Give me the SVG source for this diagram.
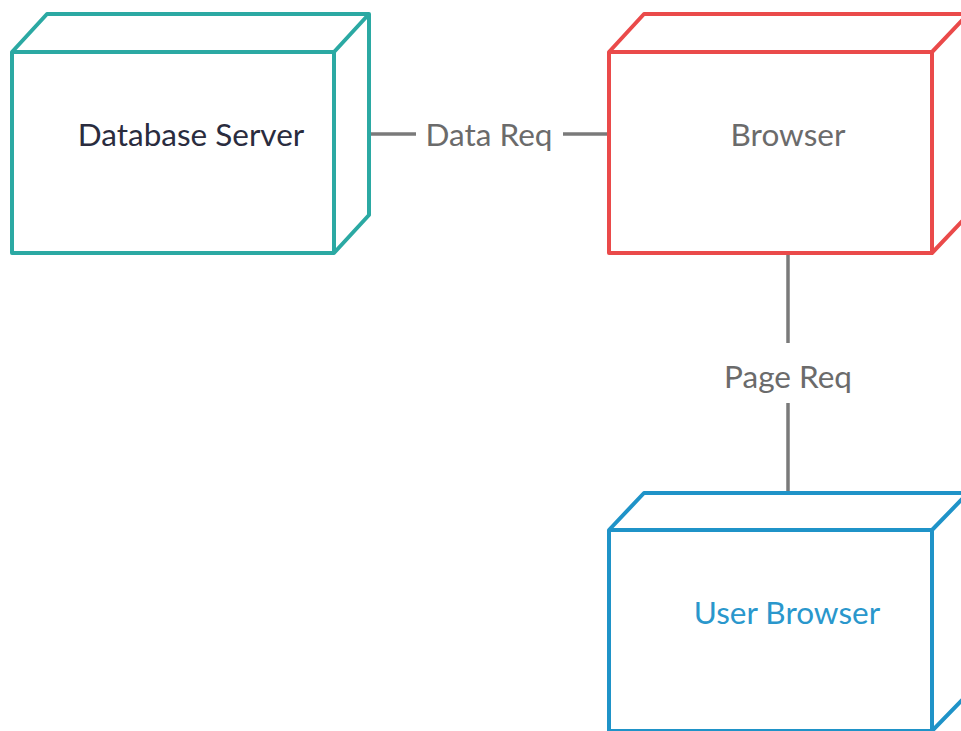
<svg xmlns="http://www.w3.org/2000/svg" width="961" height="731" viewBox="0 0 961 731">
<style>
.box{fill:#fff;stroke-width:4;stroke-linejoin:round}
.edge{stroke:#7a7a7a;stroke-width:3.5;fill:none}
.lbl{font-family:Lato,"Open Sans","Liberation Sans",sans-serif;font-size:31.5px;text-anchor:middle}
</style>
<rect width="961" height="731" fill="#fff"/>
<g id="connectors">
<line class="edge" x1="370" y1="134" x2="416" y2="134"/>
<line class="edge" x1="563" y1="134" x2="609" y2="134"/>
<text class="lbl" x="489" y="146" fill="#6b6b6b">Data Req</text>
<line class="edge" x1="788" y1="253" x2="788" y2="343"/>
<line class="edge" x1="788" y1="403" x2="788" y2="493"/>
<text class="lbl" x="788" y="388" fill="#6b6b6b">Page Req</text>
</g>
<g id="database-server">
<path class="box" stroke="#2ba9a3" d="M12 52 L47 14 L369 14 L369 215 L334 253 L12 253 Z M12 52 L334 52 L369 14 M334 52 L334 253"/>
<text class="lbl" x="191" y="146" fill="#2a2c3e">Database Server</text>
</g>
<g id="browser">
<path class="box" stroke="#ea4a4a" d="M609 52 L644 14 L968 14 L968 215 L932 253 L609 253 Z M609 52 L932 52 L968 14 M932 52 L932 253"/>
<text class="lbl" x="788" y="146" fill="#6b6b6b">Browser</text>
</g>
<g id="user-browser">
<path class="box" stroke="#1f93c8" d="M609 530 L644 493 L968 493 L968 694 L932 731 L609 731 Z M609 530 L932 530 L968 493 M932 530 L932 740"/>
<text class="lbl" x="787" y="624" fill="#2a97cc">User Browser</text>
</g>
</svg>
